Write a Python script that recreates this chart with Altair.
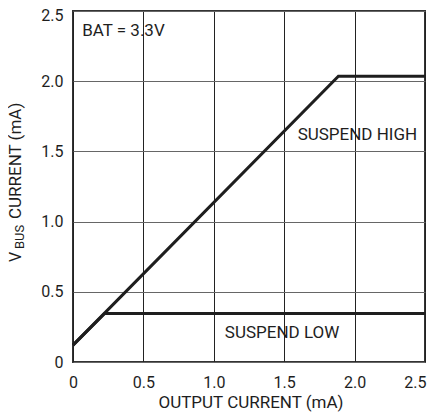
import altair as alt
import pandas as pd

# ---- data ----
high_x = [0.0, 1.885, 2.5]
high_y = [0.12, 2.035, 2.035]
low_x = [0.0, 0.225, 2.5]
low_y = [0.12, 0.345, 0.345]
x_ticks = [0, 0.5, 1.0, 1.5, 2.0, 2.5]
y_ticks = [0, 0.5, 1.0, 1.5, 2.0, 2.5]
label_text = ["SUSPEND HIGH", "SUSPEND LOW"]
label_x = [2.02, 1.485]
label_y = [1.617, 0.209]
note_text = ["BAT = 3.3V"]
note_x = [0.065]
note_y = [2.357]
x_title = "OUTPUT CURRENT (mA)"

FONT = "Roboto"
INK = "#1e1e1e"

lines_df = pd.DataFrame(
    {
        "x": high_x + low_x,
        "y": high_y + low_y,
        "series": ["high"] * len(high_x) + ["low"] * len(low_x),
        "order": list(range(len(high_x))) + list(range(len(low_x))),
    }
)
labels_df = pd.DataFrame({"x": label_x, "y": label_y, "t": label_text})
note_df = pd.DataFrame({"x": note_x, "y": note_y, "t": note_text})

xscale = alt.Scale(domain=[0, 2.5], nice=False, zero=False)
yscale = alt.Scale(domain=[0, 2.5], nice=False, zero=False)

fmt = "datum.value == 0 ? '0' : format(datum.value, '.1f')"

xaxis = alt.Axis(
    values=x_ticks, labelExpr=fmt, ticks=False, domain=False,
    grid=True, gridColor="#222222", gridWidth=1,
    labelFontSize=16, labelFont=FONT, labelColor=INK, labelPadding=12,
    labelAlign=alt.ConditionalAxisLabelAlign(
        condition={"test": "datum.value == 2.5", "value": "right"}, value="center"
    ),
    labelOffset=alt.ConditionalAxisNumber(
        condition={"test": "datum.value == 2.5", "value": 1}, value=0
    ),
    labelOverlap=False,
    title=None,
)
yaxis = alt.Axis(
    values=y_ticks, labelExpr=fmt, ticks=False, domain=False,
    grid=True, gridColor="#666666", gridWidth=1,
    labelFontSize=16, labelFont=FONT, labelColor=INK, labelPadding=10,
    labelOffset=alt.ConditionalAxisNumber(
        condition={"test": "datum.value == 2.5", "value": 4}, value=0
    ),
    labelOverlap=False,
    title=None,
)

lines = alt.Chart(lines_df).mark_line(color=INK, strokeWidth=3).encode(
    x=alt.X("x:Q", scale=xscale, axis=xaxis),
    y=alt.Y("y:Q", scale=yscale, axis=yaxis),
    detail="series:N",
    order="order:Q",
)

labels = alt.Chart(labels_df).mark_text(
    font=FONT, fontSize=17, color=INK, align="center", baseline="middle"
).encode(x=alt.X("x:Q", scale=xscale), y=alt.Y("y:Q", scale=yscale), text="t:N")

note = alt.Chart(note_df).mark_text(
    font=FONT, fontSize=17, color=INK, align="left", baseline="middle"
).encode(x=alt.X("x:Q", scale=xscale), y=alt.Y("y:Q", scale=yscale), text="t:N")

one = pd.DataFrame({"k": [0]})
xtitle = alt.Chart(one).mark_text(
    font=FONT, fontSize=17, color=INK, align="center", baseline="alphabetic"
).encode(x=alt.value(178), y=alt.value(397), text=alt.value(x_title))
ytitle_v = alt.Chart(one).mark_text(
    font=FONT, fontSize=16, color=INK, angle=270, align="left", baseline="alphabetic"
).encode(x=alt.value(-52), y=alt.value(251), text=alt.value("V"))
ytitle_sub = alt.Chart(one).mark_text(
    font=FONT, fontSize=13, color=INK, angle=270, align="left", baseline="alphabetic"
).encode(x=alt.value(-49), y=alt.value(238), text=alt.value("BUS"))
ytitle_rest = alt.Chart(one).mark_text(
    font=FONT, fontSize=17, color=INK, angle=270, align="left", baseline="alphabetic"
).encode(x=alt.value(-52), y=alt.value(208), text=alt.value("CURRENT (mA)"))

chart = (
    alt.layer(lines, labels, note, xtitle, ytitle_v, ytitle_sub, ytitle_rest)
    .properties(
        width=352,
        height=351,
        autosize=alt.AutoSizeParams(type="none"),
        padding={"left": 65, "top": 3, "right": 2, "bottom": 50},
        background="white",
    )
    .configure_view(stroke="#333333", strokeWidth=2)
)

chart.save("out.html", embed_options={"renderer": "svg", "actions": False})
